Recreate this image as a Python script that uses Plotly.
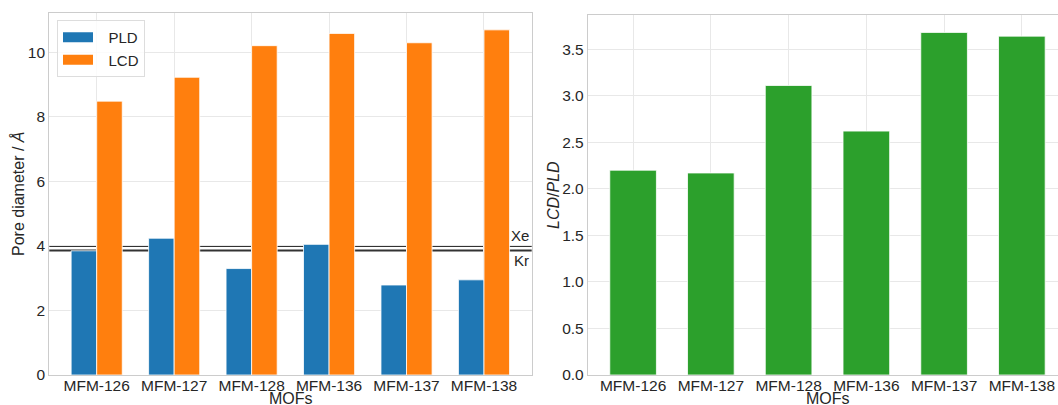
import plotly.graph_objects as go

# Pore metrics for the MFM series
mofs = ["MFM-126", "MFM-127", "MFM-128", "MFM-136", "MFM-137", "MFM-138"]
pld = [3.85, 4.24, 3.30, 4.05, 2.79, 2.95]
lcd = [8.49, 9.23, 10.21, 10.59, 10.30, 10.70]
ratio = [2.20, 2.17, 3.11, 2.62, 3.68, 3.64]

# Reference gas diameters
gas_names = ["Xe", "Kr"]
gas_diam = [4.00, 3.86]

BLUE, ORANGE, GREEN = "#1f77b4", "#ff7f0e", "#2ca02c"
TXT = "#262626"
GRID = "#e8e8e8"
SPINE = "#cccccc"
FONT = "Liberation Sans, Arial, sans-serif"
FS = 16
TFS = 15.5
LFS = 15
W, H = 1058, 405
BAR_W = 0.33

fig = go.Figure()

fig.add_trace(go.Bar(x=mofs, y=pld, width=BAR_W, offset=-BAR_W, marker_color=BLUE,
                     marker_line=dict(color="white", width=0.8), showlegend=False,
                     xaxis="x", yaxis="y"))
fig.add_trace(go.Bar(x=mofs, y=lcd, width=BAR_W, offset=0, marker_color=ORANGE,
                     marker_line=dict(color="white", width=0.8), showlegend=False,
                     xaxis="x", yaxis="y"))
fig.add_trace(go.Bar(x=mofs, y=ratio, width=0.6, marker_color=GREEN,
                     marker_line=dict(color="white", width=0.8), showlegend=False,
                     xaxis="x2", yaxis="y2"))

# legend keys drawn as wide patches
for name, col in [("PLD", BLUE), ("LCD", ORANGE)]:
    fig.add_trace(go.Scatter(x=[None], y=[None], mode="lines", name="\u2002\u2009" + name,
                             line=dict(color=col, width=10), xaxis="x", yaxis="y"))

# Xe / Kr reference lines, behind the bars
for name, d in zip(gas_names, gas_diam):
    fig.add_shape(type="line", xref="x domain", yref="y", x0=0, x1=1, y0=d, y1=d,
                  line=dict(color="#333333", width=2), layer="below")
fig.add_annotation(xref="x domain", yref="y", x=1, y=gas_diam[0], text=gas_names[0],
                   showarrow=False, xanchor="right", yanchor="bottom", xshift=-1,
                   font=dict(size=LFS, color=TXT, family=FONT))
fig.add_annotation(xref="x domain", yref="y", x=1, y=gas_diam[1], text=gas_names[1],
                   showarrow=False, xanchor="right", yanchor="top", xshift=-1,
                   font=dict(size=LFS, color=TXT, family=FONT))

def px_x(p):
    return p / W

def px_y(p):
    return 1 - p / H

axis_common = dict(showgrid=True, gridcolor=GRID, gridwidth=1, showline=True,
                   linecolor=SPINE, linewidth=1.3, ticks="", zeroline=False,
                   tickfont=dict(size=TFS, color=TXT, family=FONT), automargin=False)

fig.update_layout(
    width=W, height=H, autosize=False,
    margin=dict(l=0, r=0, t=0, b=0),
    paper_bgcolor="white", plot_bgcolor="white",
    font=dict(family=FONT, size=FS, color=TXT),
    barmode="overlay",
    xaxis=dict(domain=[px_x(49.3), px_x(531.7)], range=[-0.612, 5.616], mirror=True,
               type="category", anchor="y", **axis_common),
    yaxis=dict(domain=[px_y(375), px_y(12.6)], range=[0, 11.235], mirror=True,
               dtick=2, anchor="x", **axis_common),
    xaxis2=dict(domain=[px_x(588), 1.0], range=[-0.58, 5.465], mirror=True,
                type="category", anchor="y2", **axis_common),
    yaxis2=dict(domain=[px_y(375), px_y(15)], range=[0, 3.867], mirror=True,
                dtick=0.5, tickformat=".1f", anchor="x2", **axis_common),
    legend=dict(x=px_x(57), y=px_y(20), xanchor="left", yanchor="top",
                bgcolor="rgba(255,255,255,0.8)", bordercolor="#dddddd", borderwidth=1,
                itemwidth=30, font=dict(size=LFS, color=TXT, family=FONT),
                tracegroupgap=0),
)
fig.update_xaxes(ticklabelstandoff=-4)

# axis titles
for cx in (290.5, 827.5):
    fig.add_annotation(xref="paper", yref="paper", x=px_x(cx), y=px_y(398.5), text="MOFs",
                       showarrow=False, xanchor="center", yanchor="middle",
                       font=dict(size=FS, color=TXT, family=FONT))
fig.add_annotation(xref="paper", yref="paper", x=px_x(18), y=px_y(194),
                   text="Pore diameter / <i>Å</i>", textangle=-90,
                   showarrow=False, xanchor="center", yanchor="middle",
                   font=dict(size=FS, color=TXT, family=FONT))
fig.add_annotation(xref="paper", yref="paper", x=px_x(554), y=px_y(195),
                   text="<i>LCD</i>/<i>PLD</i>", textangle=-90,
                   showarrow=False, xanchor="center", yanchor="middle",
                   font=dict(size=FS, color=TXT, family=FONT))

fig.write_html("out.html")
